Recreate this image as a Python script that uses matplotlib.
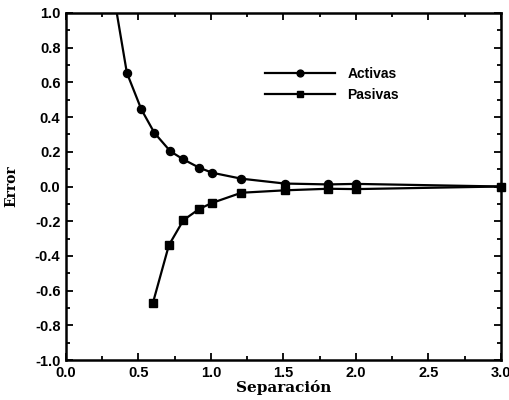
import matplotlib
matplotlib.use("Agg")
import matplotlib.pyplot as plt
from matplotlib.ticker import MultipleLocator

# Data
act_x = [0.30, 0.42, 0.52, 0.61, 0.72, 0.81, 0.92, 1.01, 1.21, 1.51, 1.81, 2.00, 3.00]
act_y = [1.25, 0.655, 0.444, 0.309, 0.203, 0.156, 0.108, 0.079, 0.045, 0.017, 0.012, 0.015, 0.0]
pas_x = [0.60, 0.71, 0.81, 0.92, 1.01, 1.21, 1.51, 1.81, 2.00, 3.00]
pas_y = [-0.67, -0.338, -0.194, -0.129, -0.094, -0.036, -0.022, -0.013, -0.015, 0.0]

x_ticks = [0.0, 0.5, 1.0, 1.5, 2.0, 2.5, 3.0]
y_ticks = [1.0, 0.8, 0.6, 0.4, 0.2, 0.0, -0.2, -0.4, -0.6, -0.8, -1.0]

fig = plt.figure(figsize=(5.1, 4.0), dpi=100)
ax = fig.add_axes([0.1294, 0.10, 0.8526, 0.8675])

ax.plot(act_x, act_y, '-', color='black', lw=1.6, marker='o', ms=5.8, label='Activas', clip_on=True)
ax.plot(pas_x, pas_y, '-', color='black', lw=1.6, marker='s', ms=5.8, label='Pasivas', clip_on=False)

tick_font = {'family': 'Liberation Sans', 'weight': 'bold', 'size': 10.5}
ax.set_xlim(0, 3)
ax.set_ylim(-1, 1)
ax.set_xticks(x_ticks)
ax.set_yticks(y_ticks)
ax.set_xticklabels([f"{v:.1f}" for v in x_ticks], fontdict=tick_font)
ax.set_yticklabels([f"{v:.1f}" for v in y_ticks], fontdict=tick_font)
ax.xaxis.set_minor_locator(MultipleLocator(0.25))
ax.yaxis.set_minor_locator(MultipleLocator(0.1))
ax.tick_params(which='both', direction='in', top=True, right=True, width=1.3)
ax.tick_params(which='major', length=5, pad=4)
ax.tick_params(which='minor', length=3)
for s in ax.spines.values():
    s.set_linewidth(1.8)

ax.set_xlabel('Separación', fontfamily='DejaVu Serif', fontweight='bold', fontsize=11, labelpad=0)
ax.set_ylabel('Error', fontfamily='DejaVu Serif', fontweight='bold', fontsize=10, labelpad=12)

leg = ax.legend(loc='upper left', bbox_to_anchor=(0.43, 0.88), frameon=False,
                handlelength=5.0, prop={'family': 'Liberation Sans', 'weight': 'bold', 'size': 10},
                labelspacing=0.5, handletextpad=0.9, markerscale=0.85)

fig.savefig('out.png', dpi=100)
